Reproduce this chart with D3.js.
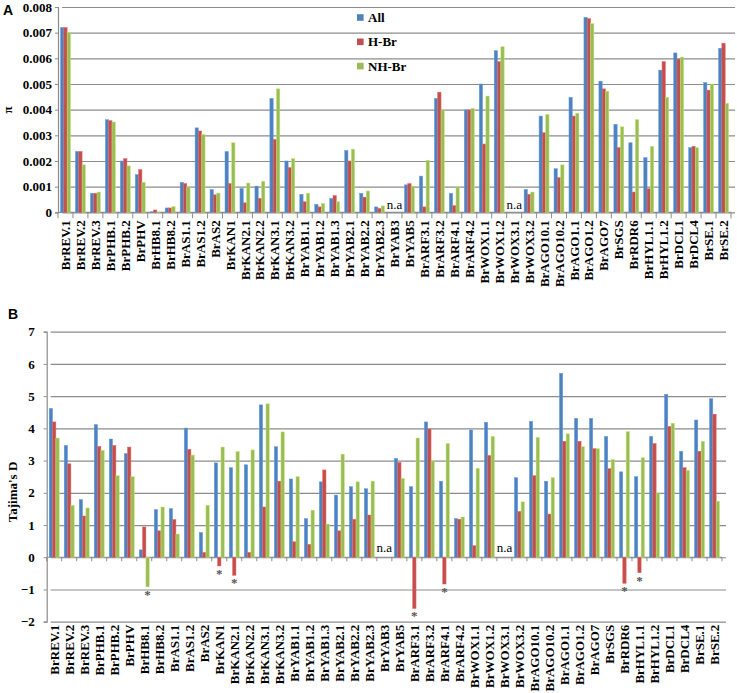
<!DOCTYPE html>
<html>
<head>
<meta charset="utf-8">
<script src="https://cdn.jsdelivr.net/npm/d3@7"></script>
<style>
  body { margin: 0; background: #fff; }
  svg { display: block; }
  text { font-family: "Liberation Serif", "Times New Roman", serif; }
</style>
</head>
<body>
<div id="chart"></div>
<script>
'use strict'

const categories = ["BrREV.1", "BrREV.2", "BrREV.3", "BrPHB.1", "BrPHB.2", "BrPHV", "BrHB8.1", "BrHB8.2",
    "BrAS1.1", "BrAS1.2", "BrAS2", "BrKAN1", "BrKAN2.1", "BrKAN2.2", "BrKAN3.1", "BrKAN3.2",
    "BrYAB1.1", "BrYAB1.2", "BrYAB1.3", "BrYAB2.1", "BrYAB2.2", "BrYAB2.3", "BrYAB3", "BrYAB5",
    "BrARF3.1", "BrARF3.2", "BrARF4.1", "BrARF4.2", "BrWOX1.1", "BrWOX1.2", "BrWOX3.1", "BrWOX3.2",
    "BrAGO10.1", "BrAGO10.2", "BrAGO1.1", "BrAGO1.2", "BrAGO7", "BrSGS", "BrRDR6", "BrHYL1.1",
    "BrHYL1.2", "BrDCL1", "BrDCL4", "BrSE.1", "BrSE.2"];

const seriesNames = ["All", "H-Br", "NH-Br"];
const seriesColors = ["#4f81bd", "#c0504d", "#9bbb59"];

// nucleotide diversity (pi), null = n.a
const piAll = [0.0072, 0.00237, 0.00074, 0.00361, 0.0020, 0.00147, 0.00002, 0.00017, 0.00117, 0.00329,
    0.00089, 0.00237, 0.00093, 0.00102, 0.00444, 0.0020, 0.0007, 0.00031, 0.00054, 0.00241, 0.00074,
    0.00021, null, 0.00107, 0.00141, 0.00444, 0.00074, 0.00399, 0.0050, 0.0063, null, 0.00089, 0.00375,
    0.0017, 0.00448, 0.0076, 0.00511, 0.00343, 0.00271, 0.00213, 0.00554, 0.00621, 0.00252, 0.00506, 0.00639];
const piHBr = [0.0072, 0.00237, 0.00074, 0.00357, 0.00209, 0.00166, 0.00009, 0.00017, 0.00112, 0.00317,
    0.00068, 0.00112, 0.00037, 0.00054, 0.00284, 0.00174, 0.00041, 0.00021, 0.00065, 0.0020, 0.00059,
    0.00015, null, 0.00112, 0.00021, 0.00468, 0.00026, 0.00399, 0.00266, 0.00587, null, 0.0007, 0.0031,
    0.00135, 0.00375, 0.00755, 0.00481, 0.00252, 0.00079, 0.00092, 0.00587, 0.00597, 0.00257, 0.00476, 0.00659];
const piNHBr = [0.0070, 0.00185, 0.00079, 0.00352, 0.00181, 0.00117, 0.00001, 0.00022, 0.00099, 0.00303,
    0.00075, 0.00271, 0.00114, 0.00121, 0.00481, 0.00209, 0.00074, 0.00035, 0.00041, 0.00246, 0.00083,
    0.00025, null, 0.00102, 0.00203, 0.00399, 0.00099, 0.00405, 0.00453, 0.00645, null, 0.00079, 0.00381,
    0.00185, 0.00386, 0.00735, 0.00472, 0.00333, 0.00361, 0.00257, 0.00448, 0.00605, 0.00252, 0.0050, 0.00425];

// Tajima's D
const dAll = [4.62, 3.47, 1.79, 4.12, 3.67, 3.22, 0.23, 1.48, 1.51, 4.01, 0.77, 2.93, 2.78, 2.87, 4.73,
    3.43, 2.43, 1.2, 2.34, 1.93, 2.19, 2.13, null, 3.07, 2.19, 4.2, 2.36, 1.2, 3.95, 4.19, null, 2.47,
    4.22, 2.36, 5.71, 4.31, 4.31, 3.75, 2.65, 2.5, 3.75, 5.06, 3.29, 4.26, 4.92];
const dHBr = [4.2, 2.9, 1.28, 3.44, 3.47, 3.42, 0.94, 0.82, 1.17, 3.35, 0.15, -0.27, -0.56, 0.15, 1.56,
    2.36, 0.48, 0.4, 2.71, 0.82, 1.18, 1.31, null, 2.94, -1.59, 3.98, -0.83, 1.18, 0.36, 3.16, null, 1.42,
    2.53, 1.34, 3.6, 3.6, 3.37, 2.75, -0.81, -0.48, 3.53, 4.06, 2.78, 3.29, 4.44];
const dNHBr = [3.7, 1.61, 1.53, 3.32, 2.53, 2.5, -0.92, 1.56, 0.72, 3.17, 1.61, 3.42, 3.28, 3.33, 4.76,
    3.89, 2.5, 1.46, 1.03, 3.2, 2.34, 2.36, null, 2.45, 3.7, 2.99, 3.53, 1.25, 2.76, 3.75, null, 1.72,
    3.72, 2.47, 3.83, 3.43, 3.37, 3.03, 3.9, 3.09, 2.0, 4.16, 2.7, 3.6, 1.74];

// significant negative values marked with *
const starCats = ["BrHB8.1", "BrKAN1", "BrKAN2.1", "BrARF3.1", "BrARF4.1", "BrRDR6", "BrHYL1.1"];
const starSeries = ["NH-Br", "H-Br", "H-Br", "H-Br", "H-Br", "H-Br", "H-Br"];

const piTicks = [0, 0.001, 0.002, 0.003, 0.004, 0.005, 0.006, 0.007, 0.008];
const dTicks = [-2, -1, 0, 1, 2, 3, 4, 5, 6, 7];

const W = 737, H = 693;
const gridColor = "#8c8c8c";

const svg = d3.select("#chart").append("svg")
    .attr("width", W)
    .attr("height", H);

function drawPanel(opt) {
    const rows = categories.map((c, i) => ({
        cat: c,
        vals: opt.series.map((s, j) => ({ name: seriesNames[j], v: s[i] }))
    }));

    const x0 = d3.scaleBand()
        .domain(categories)
        .range([opt.left, opt.right]);

    const x1 = d3.scaleBand()
        .domain(seriesNames)
        .range([0, x0.bandwidth()])
        .paddingOuter(0.75);

    const y = d3.scaleLinear()
        .domain(opt.domain)
        .range([opt.bottom, opt.top]);

    const color = d3.scaleOrdinal().domain(seriesNames).range(seriesColors);

    // gridlines
    svg.append("g")
        .attr("transform", `translate(${opt.left},0)`)
        .call(d3.axisLeft(y).tickValues(opt.ticks).tickSize(-(opt.right - opt.left) - 4).tickFormat(""))
        .call(g => g.select(".domain").remove())
        .call(g => g.selectAll(".tick line")
            .attr("x1", 4)
            .attr("stroke", gridColor)
            .attr("stroke-width", 1.2));

    // y axis labels
    svg.append("g")
        .attr("transform", `translate(${opt.left},0)`)
        .call(d3.axisLeft(y).tickValues(opt.ticks).tickSize(3).tickPadding(opt.tickPad).tickFormat(opt.fmt))
        .call(g => g.select(".domain").attr("stroke", gridColor).attr("stroke-width", 1.2))
        .call(g => g.selectAll(".tick line").attr("stroke", gridColor))
        .call(g => g.selectAll("text")
            .style("font-size", "13px")
            .style("font-weight", "bold")
            .attr("fill", "#000"));

    // zero line with category boundary ticks
    const zeroY = y(0);
    svg.append("line")
        .attr("x1", opt.left).attr("x2", opt.right)
        .attr("y1", zeroY).attr("y2", zeroY)
        .attr("stroke", gridColor).attr("stroke-width", 1.2);

    svg.append("g").selectAll("line")
        .data(categories.concat([null]))
        .enter().append("line")
        .attr("x1", d => d === null ? opt.right : x0(d))
        .attr("x2", d => d === null ? opt.right : x0(d))
        .attr("y1", zeroY)
        .attr("y2", zeroY + opt.tickLen)
        .attr("stroke", gridColor);

    // bars
    const groups = svg.append("g").selectAll("g")
        .data(rows)
        .enter().append("g")
        .attr("transform", d => `translate(${x0(d.cat)},0)`);

    groups.selectAll("rect")
        .data(d => d.vals.filter(v => v.v !== null))
        .enter().append("rect")
        .attr("x", d => x1(d.name))
        .attr("width", x1.bandwidth())
        .attr("y", d => Math.min(y(d.v), zeroY))
        .attr("height", d => Math.abs(y(d.v) - zeroY))
        .attr("fill", d => color(d.name))
        .attr("stroke", d => d3.color(color(d.name)).brighter(0.6))
        .attr("stroke-width", 0.5);

    // n.a labels
    svg.append("g").selectAll("text")
        .data(rows.filter(r => r.vals.every(v => v.v === null)))
        .enter().append("text")
        .attr("x", d => x0(d.cat) + x0.bandwidth() / 2)
        .attr("y", zeroY - opt.naOffset)
        .attr("text-anchor", "middle")
        .style("font-size", "13px")
        .text("n.a");

    // category labels
    svg.append("g")
        .attr("transform", `translate(0,${opt.labelY})`)
        .call(d3.axisBottom(x0).tickSize(0).tickPadding(0))
        .call(g => g.select(".domain").remove())
        .call(g => g.selectAll("text")
            .attr("transform", "rotate(-90)")
            .attr("x", -opt.labelPad)
            .attr("y", 0)
            .attr("dy", "0.35em")
            .attr("text-anchor", "end")
            .attr("fill", "#000")
            .style("font-size", "13px")
            .style("font-weight", "bold"));

    return { x0, x1, y };
}

// Panel A
drawPanel({
    series: [piAll, piHBr, piNHBr],
    left: 58, right: 731, top: 7, bottom: 212.3,
    domain: [0, 0.008], ticks: piTicks,
    fmt: d => d === 0 ? "0" : d3.format(".3f")(d),
    tickPad: 3, tickLen: 6, naOffset: 3,
    labelY: 212.3, labelPad: 8
});

svg.append("text")
    .attr("x", 3).attr("y", 15)
    .style("font-family", "Arial, 'Liberation Sans', sans-serif")
    .style("font-size", "14px")
    .style("font-weight", "bold")
    .text("A");

svg.append("text")
    .attr("transform", "translate(12,110) rotate(-90)")
    .attr("text-anchor", "middle")
    .style("font-size", "13px")
    .style("font-weight", "bold")
    .text("π");

// legend
const legend = svg.append("g").selectAll("g")
    .data(seriesNames)
    .enter().append("g")
    .attr("transform", (d, i) => `translate(357,${17.5 + i * 24.3})`);

legend.append("rect")
    .attr("x", 0).attr("y", -3.3)
    .attr("width", 6.6).attr("height", 6.6)
    .attr("fill", (d, i) => seriesColors[i]);

legend.append("text")
    .attr("x", 11).attr("y", 0)
    .attr("dy", "0.35em")
    .style("font-size", "13px")
    .style("font-weight", "bold")
    .text(d => d);

// Panel B
const pB = drawPanel({
    series: [dAll, dHBr, dNHBr],
    left: 46.7, right: 722, top: 331.7, bottom: 621.7,
    domain: [-2, 7], ticks: dTicks,
    fmt: d3.format("d"),
    tickPad: 9, tickLen: 4, naOffset: 5,
    labelY: 621.7, labelPad: 3
});

svg.append("g").selectAll("text")
    .data(starCats.map((c, i) => ({ cat: c, s: starSeries[i] })))
    .enter().append("text")
    .attr("x", d => pB.x0(d.cat) + pB.x1(d.s) + pB.x1.bandwidth() / 2)
    .attr("y", d => {
        const idx = categories.indexOf(d.cat);
        const v = [dAll, dHBr, dNHBr][seriesNames.indexOf(d.s)][idx];
        return pB.y(v) + 12;
    })
    .attr("text-anchor", "middle")
    .attr("fill", "#555")
    .style("font-size", "13px")
    .style("font-weight", "bold")
    .text("*");

svg.append("text")
    .attr("x", 8).attr("y", 319)
    .style("font-family", "Arial, 'Liberation Sans', sans-serif")
    .style("font-size", "14px")
    .style("font-weight", "bold")
    .text("B");

svg.append("text")
    .attr("transform", "translate(12,492) rotate(-90)")
    .attr("text-anchor", "middle")
    .attr("dy", "0.35em")
    .style("font-size", "13px")
    .style("font-weight", "bold")
    .text("Tajima's D");
</script>
</body>
</html>
